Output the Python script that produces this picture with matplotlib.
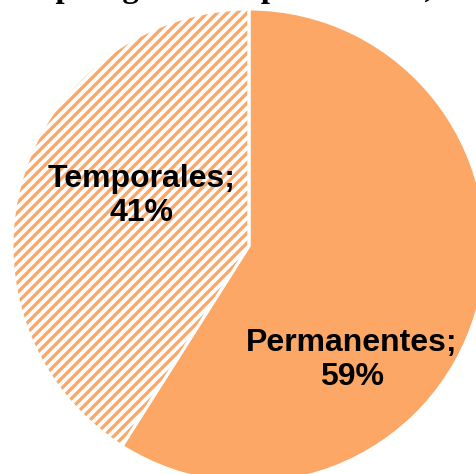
import matplotlib.pyplot as plt

categories = ["Temporales", "Permanentes"]
shares = [41, 59]
title = "Empleo generado por tamaño, 2019"

ORANGE = "#FCA766"
DPI = 120
W, H = 476, 474
CX, CY, R = 249, 246, 237  # pie centre and radius in pixels


def px_to_pt(px):
    return px * 72 / DPI


plt.rcParams["hatch.linewidth"] = px_to_pt(3.3)
plt.rcParams["hatch.color"] = ORANGE

fig = plt.figure(figsize=(W / DPI, H / DPI), dpi=DPI)
ax = fig.add_axes([0, 0, 1, 1])

# filled slices: temporary jobs hatched, permanent jobs solid
wedges, _ = ax.pie(shares, startangle=90, counterclock=True, radius=1,
                   colors=["white", ORANGE],
                   wedgeprops=dict(linewidth=0))
wedges[0].set_hatch("////")

# white separators between slices
ax.pie(shares, startangle=90, counterclock=True, radius=1,
       colors=["none", "none"],
       wedgeprops=dict(edgecolor="white", linewidth=px_to_pt(3), fill=False))

ax.set_xlim(-CX / R, (W - CX) / R)
ax.set_ylim(-(H - CY) / R, CY / R)
ax.set_aspect("auto")
ax.axis("off")

label_pos = {"Temporales": (142, 196), "Permanentes": (352, 360)}
for cat, val in zip(categories, shares):
    px, py = label_pos[cat]
    ax.text((px - CX) / R, (CY - py) / R, f"{cat};\n{val}%",
            ha="center", va="center", fontsize=px_to_pt(32), fontweight="bold",
            family="Liberation Sans", color="black", linespacing=1.2)

# title runs off the top edge; only its descenders remain on the canvas
title_font = dict(fontsize=px_to_pt(33), fontweight="bold", family="Liberation Serif")
renderer = fig.canvas.get_renderer()
probe = fig.text(0, 0, "Em", **title_font)
lead = probe.get_window_extent(renderer).width
probe.remove()
fig.text((56 - lead) / W, 1.0 + 2.5 / H, title, ha="left", va="baseline", **title_font)

fig.savefig("out.png", dpi=DPI)
